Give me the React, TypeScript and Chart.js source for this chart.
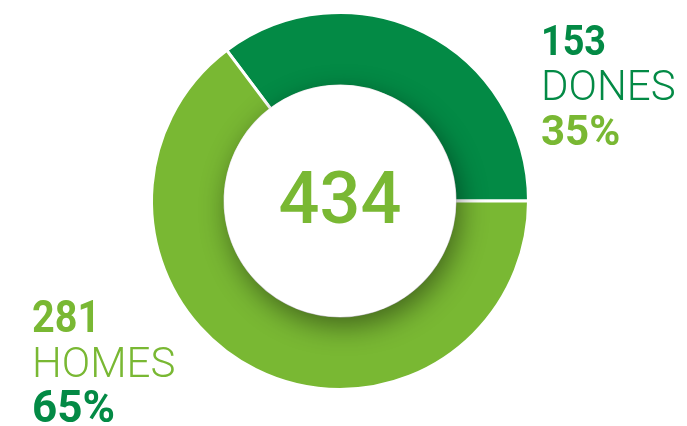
import { useEffect, useRef } from 'react';
import { Chart, DoughnutController, ArcElement, type Plugin } from 'chart.js';

Chart.register(DoughnutController, ArcElement);

/* ─── Data ─────────────────────────────────────────────────────────────── */

const CATEGORIES = ['DONES', 'HOMES'];
const VALUES = [153, 281];

const COLOUR = {
  dark:  '#038A45',
  light: '#79B833',
} as const;

const FONT = "Roboto, 'Noto Sans', sans-serif";

const TOTAL = VALUES.reduce((s, v) => s + v, 0);
const pct = (v: number) => `${Math.round((v / TOTAL) * 100)}%`;

/* ─── Plugin: centre disc with shadow, total and side labels ───────────── */

function squeezedText(ctx: CanvasRenderingContext2D, text: string, x: number, y: number, sx: number) {
  ctx.save();
  ctx.translate(x, y);
  ctx.scale(sx, 1);
  ctx.fillText(text, 0, 0);
  ctx.restore();
}

const decorPlugin: Plugin<'doughnut'> = {
  id: 'decor',
  afterDatasetsDraw(chart) {
    const { ctx } = chart;
    const arc = chart.getDatasetMeta(0).data[0] as any;
    if (!arc) return;
    const { x, y, innerRadius } = arc.getProps(['x', 'y', 'innerRadius'], true);

    // centre disc casting a soft shadow onto the ring
    ctx.save();
    ctx.beginPath();
    ctx.arc(x, y, innerRadius + 1, 0, Math.PI * 2);
    ctx.fillStyle = '#ffffff';
    ctx.shadowColor = 'rgba(0,0,0,0.45)';
    ctx.shadowBlur = 28;
    ctx.shadowOffsetX = 4;
    ctx.shadowOffsetY = 9;
    ctx.fill();
    ctx.restore();

    // total
    ctx.save();
    ctx.fillStyle = COLOUR.light;
    ctx.font = `500 72px ${FONT}`;
    ctx.textAlign = 'center';
    ctx.textBaseline = 'alphabetic';
    ctx.fillText(String(TOTAL), x, 223);
    ctx.restore();

    // side labels
    const drawBlock = (i: number, left: number, top: number, numCol: string, pctCol: string, size: number) => {
      ctx.save();
      ctx.textAlign = 'left';
      ctx.textBaseline = 'alphabetic';
      ctx.fillStyle = numCol;
      ctx.font = `700 ${size}px ${FONT}`;
      squeezedText(ctx, String(VALUES[i]), left, top, 0.9);
      ctx.font = `300 42px ${FONT}`;
      ctx.fillText(CATEGORIES[i], left, top + 45);
      ctx.fillStyle = pctCol;
      ctx.font = `700 ${size}px ${FONT}`;
      ctx.fillText(pct(VALUES[i]), left, top + 90);
      ctx.restore();
    };
    drawBlock(0, 541, 55, COLOUR.dark, COLOUR.light, 42);
    drawBlock(1, 32, 332, COLOUR.light, COLOUR.dark, 44);
  },
};

/* ─── Component ────────────────────────────────────────────────────────── */

export default function App() {
  const canvasRef = useRef<HTMLCanvasElement>(null);

  useEffect(() => {
    document.body.style.margin = '0';
    if (!canvasRef.current) return;

    // first slice starts so that it ends exactly at 3 o'clock
    const rotation = 90 - (VALUES[0] / TOTAL) * 360;

    const chart = new Chart(canvasRef.current, {
      type: 'doughnut',
      data: {
        labels: CATEGORIES,
        datasets: [
          {
            data: VALUES,
            backgroundColor: [COLOUR.dark, COLOUR.light],
            borderColor: '#ffffff',
            borderWidth: 3,
            hoverOffset: 0,
          },
        ],
      },
      options: {
        animation: false,
        responsive: true,
        maintainAspectRatio: false,
        rotation,
        cutout: '61%',
        layout: { padding: { left: 150, right: 157, top: 11, bottom: 35 } },
        plugins: {
          legend: { display: false },
          tooltip: { enabled: false },
        },
      },
      plugins: [decorPlugin],
    });

    return () => { chart.destroy(); };
  }, []);

  return (
    <div style={{ position: 'relative', width: 687, height: 426, background: '#ffffff' }}>
      <canvas ref={canvasRef} />
    </div>
  );
}
